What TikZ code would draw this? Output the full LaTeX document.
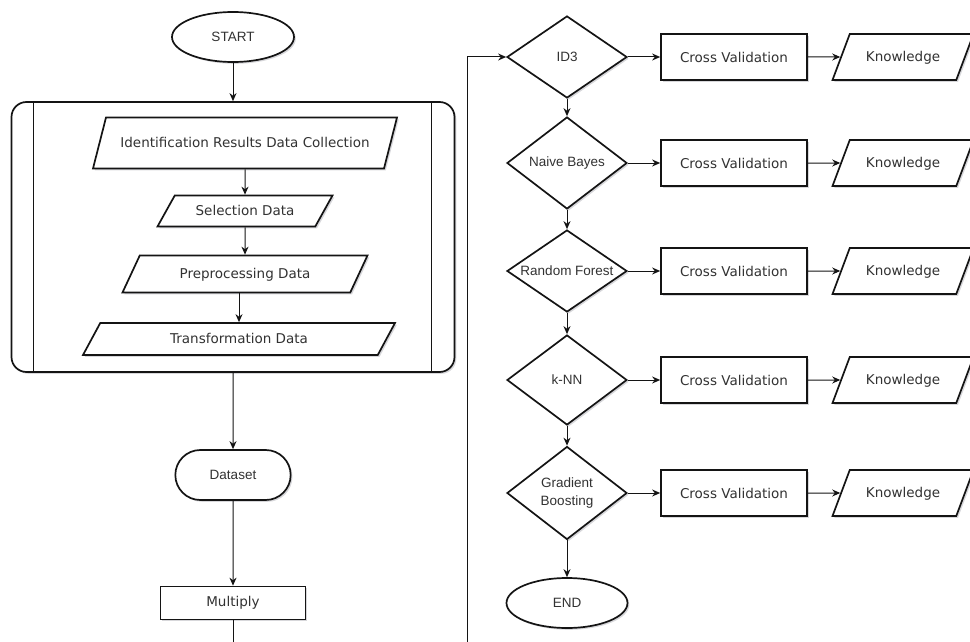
\documentclass[tikz,border=0pt]{standalone}
\usepackage{fontspec}
\setmainfont{Liberation Sans}
\newfontfamily\tahomafont{DejaVu Sans}
\usepackage{tikz}
\usetikzlibrary{shapes.geometric, shapes.misc, arrows.meta, positioning, shadows}
\definecolor{strokegray}{RGB}{20,20,20}
\definecolor{textgray}{RGB}{50,50,50}
\definecolor{shadowgray}{RGB}{140,140,150}

\tikzset{
    base/.style={draw=strokegray, line width=1.7pt, fill=white, text=textgray,
        drop shadow={shadow xshift=1.8pt, shadow yshift=-1.8pt, opacity=.35, fill=shadowgray}},
    terminal/.style={base, ellipse, minimum width=122pt, minimum height=50pt,
        font=\fontsize{13.5}{16}\selectfont},
    stadium/.style={base, rounded rectangle, minimum width=122pt, minimum height=50pt,
        font=\fontsize{13.5}{16}\selectfont},
    iobox/.style={base, trapezium, trapezium stretches body, inner sep=0pt,
        text height=11pt, text depth=2pt,
        font=\tahomafont\fontsize{13.5}{16}\selectfont},
    procbox/.style={base, rectangle, inner sep=0pt,
        font=\tahomafont\fontsize{13.5}{16}\selectfont},
    decision/.style={base, diamond, aspect=1.3, inner sep=0pt, minimum width=120pt,
        align=center, font=\fontsize{13.5}{18}\selectfont},
    subproc/.style={base, rectangle, rounded corners=15pt},
    arrow/.style={draw=strokegray, line width=1pt, -{Stealth[length=8pt, width=7pt]}},
}

\begin{document}
\begin{tikzpicture}[x=1pt, y=-1pt]
    \path[use as bounding box] (0,0) rectangle (970,642);
    \clip (0,0) rectangle (970,642);

    % left column
    \node[terminal] (start) at (233,37) {START};
    \node[subproc, minimum width=443pt, minimum height=270pt] (prep) at (233,237) {};
    \draw[strokegray, line width=1.2pt] ([xshift=23pt]prep.north west) -- ([xshift=23pt]prep.south west);
    \draw[strokegray, line width=1.2pt] ([xshift=-24pt]prep.north east) -- ([xshift=-24pt]prep.south east);

    \node[iobox, trapezium left angle=45, trapezium right angle=135,
          minimum width=304pt, minimum height=51pt] (ident) at (245,143)
          {Identification Results Data Collection};
    \node[iobox, trapezium left angle=37, trapezium right angle=143,
          minimum width=175pt, minimum height=31pt] (select) at (245,211) {Selection Data};
    \node[iobox, trapezium left angle=37, trapezium right angle=143,
          minimum width=245pt, minimum height=37pt] (preproc) at (245,274) {Preprocessing Data};
    \node[iobox, trapezium left angle=37, trapezium right angle=143,
          minimum width=312pt, minimum height=32pt] (transf) at (239,339) {Transformation Data};

    \node[stadium] (dataset) at (233,475) {Dataset};
    \node[procbox, minimum width=145pt, minimum height=33pt] (multiply) at (233,603) {Multiply};

    \draw[arrow] (start) -- (prep);
    \draw[arrow] (ident) -- (select);
    \draw[arrow] (select) -- (preproc);
    \draw[arrow] (preproc.south -| transf.north) -- (transf.north);
    \draw[arrow] (prep) -- (dataset);
    \draw[arrow] (dataset) -- (multiply);

    % right column
    \node[decision, minimum height=82pt] (id3) at (567,57) {ID3};
    \node[decision, minimum height=92pt] (nb) at (567,163) {Naive Bayes};
    \node[decision, minimum height=82pt] (rf) at (567,271) {\makebox[0pt]{Random Forest}};
    \node[decision, minimum height=90pt] (knn) at (567,380) {k-NN};
    \node[decision, minimum height=93pt] (gb) at (567,493) {Gradient\\Boosting};
    \node[terminal, minimum width=121pt] (end) at (567,603) {END};

    \draw[arrow] (id3) -- (nb);
    \draw[arrow] (nb) -- (rf);
    \draw[arrow] (rf) -- (knn);
    \draw[arrow] (knn) -- (gb);
    \draw[arrow] (gb) -- (end);

    \foreach \alg/\yy in {id3/57, nb/163, rf/271, knn/380, gb/493} {
        \node[procbox, minimum width=146pt, minimum height=46pt] (cv-\alg) at (734,\yy) {Cross Validation};
        \node[iobox, trapezium left angle=37, trapezium right angle=143,
              minimum width=141pt, minimum height=46pt] (kn-\alg) at (903,\yy) {Knowledge};
        \draw[arrow] (\alg) -- (cv-\alg);
        \draw[arrow] (cv-\alg) -- (kn-\alg);
    }

    % loop from Multiply back to ID3
    \coordinate (loop) at (467,680);
    \draw[arrow] (multiply.south) |- (loop) |- (id3.west);
\end{tikzpicture}
\end{document}
